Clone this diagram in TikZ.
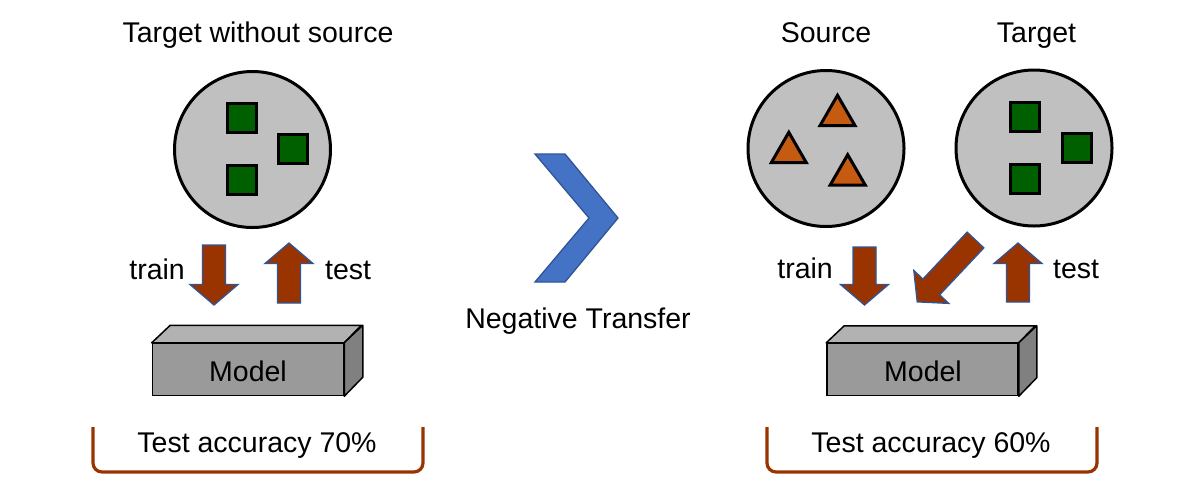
\documentclass[tikz,border=0pt]{standalone}
\usepackage{fontspec}
\setmainfont{Liberation Sans}
\usetikzlibrary{shapes.geometric}
\definecolor{poolgray}{RGB}{192,192,192}
\definecolor{dgreen}{RGB}{0,96,0}
\definecolor{triorange}{RGB}{197,90,17}
\definecolor{brown}{RGB}{153,51,0}
\definecolor{edgeblue}{RGB}{47,85,151}
\definecolor{chevblue}{RGB}{68,114,196}
\definecolor{frontgray}{RGB}{154,154,154}
\definecolor{topgray}{RGB}{178,178,178}
\definecolor{sidegray}{RGB}{128,128,128}
\tikzset{
  pool/.style={circle, draw=black, line width=3pt, fill=poolgray, minimum size=156pt, inner sep=0pt},
  sq/.style={rectangle, draw=black, line width=3pt, fill=dgreen, minimum size=29pt, inner sep=0pt},
  tri/.style={regular polygon, regular polygon sides=3, draw=black, line width=3pt, fill=triorange, minimum size=40.4pt, inner sep=0pt},
  lbl/.style={font=\fontsize{28.5}{32}\selectfont, inner sep=0pt, anchor=base},
  modelbox/.style={rectangle, draw=black, line width=1.5pt, fill=frontgray, minimum width=191pt, minimum height=52pt, inner sep=0pt},
  blk/.style={fill=brown, draw=edgeblue, line width=1.3pt, line join=miter},
  bracket/.style={draw=brown, line width=3.2pt, rounded corners=9pt},
  blockarrow/.pic={
    \path[blk] (-11.5,0) -- (11.5,0) -- (11.5,#1-20.5) -- (24,#1-20.5) -- (0,#1) -- (-24,#1-20.5) -- (-11.5,#1-20.5) -- cycle;
  }
}
\begin{document}
\begin{tikzpicture}[x=1pt,y=-1pt]
\useasboundingbox (0,0) rectangle (1201,483);

% ---------- left panel ----------
\node[lbl] (titleL) at (258,42) {Target without source};
\node[pool] (poolL) at (252.5,149.5) {};
\node[sq] (sqL1) at (241.5,118) {};
\node[sq] (sqL2) at (293,148.5) {};
\node[sq] (sqL3) at (241.5,179.5) {};

\pic at (214,245) {blockarrow=60};
\pic[rotate=180] at (289,303) {blockarrow=60};
\node[lbl, anchor=base east] (trainL) at (185,279) {train};
\node[lbl, anchor=base west] (testL) at (325,279) {test};

\node[modelbox] (modelL) at (248,369.5) {};
\path[draw=black, line width=1.5pt, fill=topgray, line join=round]
  (modelL.north west) -- ++(18.5,-17.5) -- ++(191,0) -- (modelL.north east) -- cycle;
\path[draw=black, line width=1.5pt, fill=sidegray, line join=round]
  (modelL.north east) -- ++(18.5,-17.5) -- ++(0,52) -- (modelL.south east) -- cycle;
\node[lbl] (modelLtxt) at (248,381) {Model};

\coordinate (brL1) at (93,427);
\coordinate (brL2) at (423,427);
\draw[bracket] (brL1) -- (93,472) -- (423,472) -- (brL2);
\node[lbl] (accL) at (257,452.5) {Test accuracy 70\%};

% ---------- middle ----------
\path[fill=chevblue, draw=edgeblue, line width=1.3pt, line join=miter]
  (535,154) -- (565,154) -- (618,218) -- (565,282) -- (535,282) -- (589,218) -- cycle;
\node[lbl] (neg) at (578,328.3) {Negative Transfer};

% ---------- right panel ----------
\node[lbl] (titleS) at (826,42) {Source};
\node[lbl] (titleT) at (1036.5,42) {Target};
\node[pool] (poolS) at (826,148.5) {};
\node[pool] (poolT) at (1034,148) {};
\node[tri] (triS1) at (837.5,115.5) {};
\node[tri] (triS2) at (788.8,152.5) {};
\node[tri] (triS3) at (847.7,174.9) {};
\node[sq] (sqT1) at (1025,117) {};
\node[sq] (sqT2) at (1076.5,148) {};
\node[sq] (sqT3) at (1025,178.5) {};

\pic at (864.5,247) {blockarrow=58};
\pic[rotate=-43.3] at (975.5,240) {blockarrow=85};
\pic[rotate=180] at (1018,302) {blockarrow=59};
\node[lbl, anchor=base east] (trainR) at (833,278.5) {train};
\node[lbl, anchor=base west] (testR) at (1053,278.5) {test};

\node[modelbox] (modelR) at (922.5,369.5) {};
\path[draw=black, line width=1.5pt, fill=topgray, line join=round]
  (modelR.north west) -- ++(18,-17) -- ++(191,0) -- (modelR.north east) -- cycle;
\path[draw=black, line width=1.5pt, fill=sidegray, line join=round]
  (modelR.north east) -- ++(18,-17) -- ++(0,52) -- (modelR.south east) -- cycle;
\node[lbl] (modelRtxt) at (923,381) {Model};

\coordinate (brR1) at (767,427);
\coordinate (brR2) at (1097,427);
\draw[bracket] (brR1) -- (767,472) -- (1097,472) -- (brR2);
\node[lbl] (accR) at (931,452.5) {Test accuracy 60\%};
\end{tikzpicture}
\end{document}
